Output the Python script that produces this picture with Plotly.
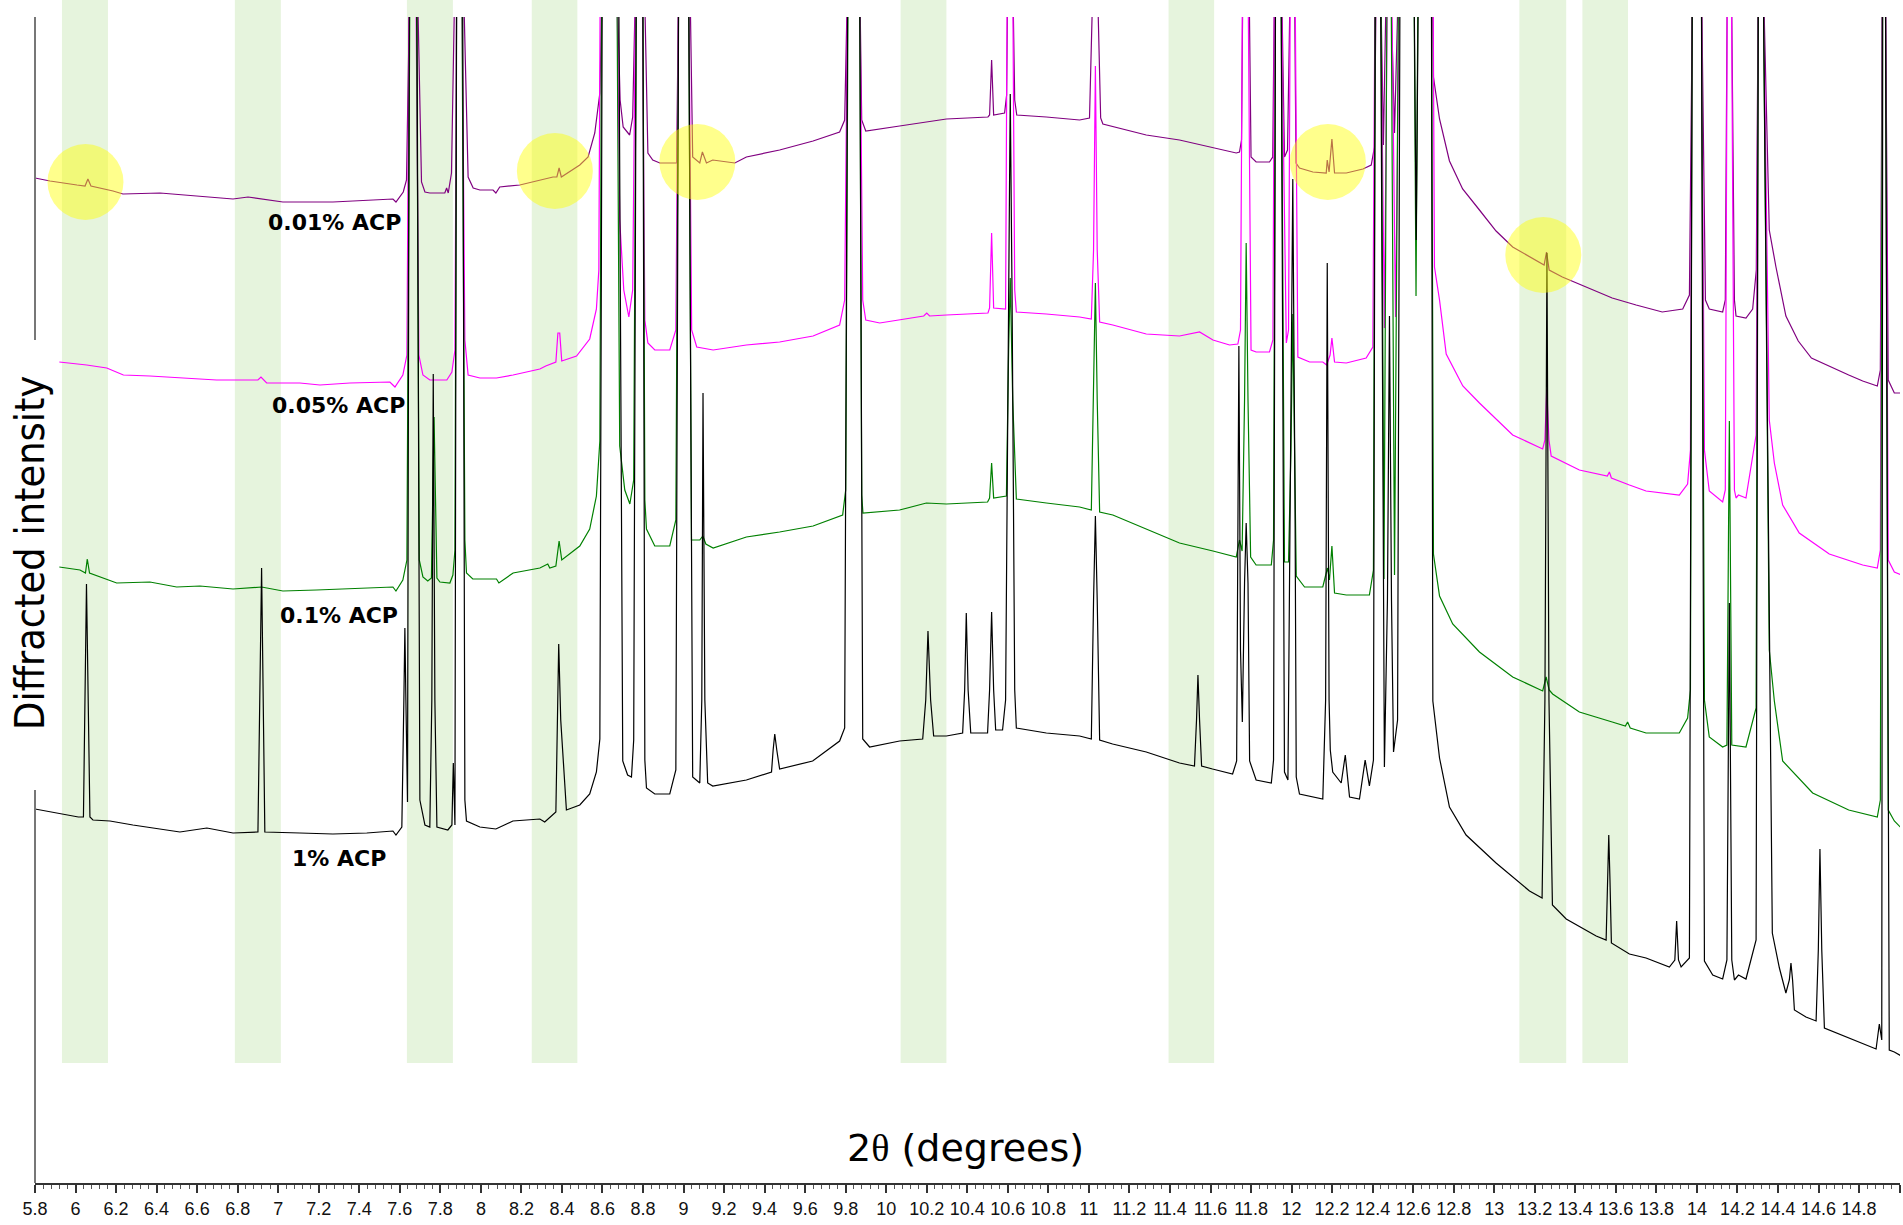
import plotly.graph_objects as go

# ---------------- data (2theta in degrees, intensity in arbitrary stacked units) ----------------
# values >= 1210 mark peaks that run off the top of the frame
ACP_001 = [(5.800,1005),(5.874,1002),(6.007,998),(6.047,997),(6.061,1004),(6.076,997),(6.185,992),(6.234,989),(6.417,990),(6.614,987),(6.777,984),(6.851,986),(7.023,981),(7.270,981),(7.437,983),(7.566,984),(7.581,981),(7.617,991),(7.633,1003),(7.650,1210),(7.686,1210),(7.707,1001),(7.724,991),(7.748,990),(7.822,990),(7.831,995),(7.839,990),(7.855,1010),(7.872,1210),(7.913,1210),(7.937,1006),(7.962,995),(7.995,993),(8.060,993),(8.074,990),(8.093,996),(8.192,998),(8.324,1005),(8.356,1006),(8.375,1006),(8.386,1015),(8.397,1006),(8.488,1018),(8.529,1026),(8.562,1050),(8.587,1090),(8.600,1210),(8.670,1210),(8.687,1083),(8.702,1056),(8.734,1048),(8.749,1066),(8.764,1210),(8.806,1210),(8.824,1030),(8.848,1023),(8.883,1020),(8.966,1020),(8.976,1210),(9.031,1210),(9.045,1026),(9.080,1020),(9.093,1031),(9.113,1020),(9.144,1023),(9.253,1020),(9.310,1026),(9.474,1033),(9.639,1042),(9.770,1051),(9.795,1063),(9.810,1210),(9.869,1210),(9.879,1063),(9.899,1052),(10.066,1057),(10.132,1059),(10.297,1064),(10.502,1066),(10.510,1068),(10.520,1123),(10.530,1068),(10.584,1070),(10.594,1088),(10.600,1210),(10.624,1210),(10.634,1083),(10.644,1068),(10.790,1066),(10.954,1063),(11.003,1065),(11.021,1210),(11.041,1210),(11.058,1065),(11.069,1059),(11.283,1048),(11.447,1043),(11.612,1035),(11.727,1030),(11.743,1031),(11.753,1043),(11.760,1210),(11.790,1210),(11.800,1026),(11.825,1021),(11.891,1021),(11.907,1026),(11.916,1210),(11.950,1210),(11.965,1026),(11.980,1033),(11.994,1210),(12.014,1210),(12.022,1020),(12.039,1015),(12.105,1011),(12.171,1010),(12.176,1023),(12.185,1011),(12.199,1044),(12.212,1010),(12.270,1010),(12.352,1014),(12.393,1018),(12.409,1036),(12.418,1210),(12.439,1210),(12.453,1038),(12.468,1210),(12.488,1210),(12.508,1050),(12.528,1210),(12.695,1210),(12.700,1106),(12.730,1064),(12.779,1022),(12.844,994),(12.927,973),(13.009,952),(13.091,936),(13.188,925),(13.246,918),(13.258,931),(13.271,913),(13.336,906),(13.418,899),(13.582,885),(13.700,878),(13.829,871),(13.930,874),(13.963,888),(13.979,1210),(14.022,1210),(14.042,883),(14.061,874),(14.127,871),(14.140,883),(14.150,1210),(14.170,1210),(14.185,883),(14.193,867),(14.242,865),(14.275,874),(14.293,913),(14.303,1210),(14.327,1210),(14.357,953),(14.390,916),(14.439,867),(14.500,842),(14.565,825),(14.749,808),(14.818,802),(14.890,797),(14.905,813),(14.915,1210),(14.930,1210),(14.944,803),(14.974,790),(15.008,790)]

ACP_005 = [(5.920,821),(6.055,818),(6.154,815),(6.236,808),(6.367,807),(6.531,805),(6.696,803),(6.900,803),(6.915,806),(6.943,800),(7.107,800),(7.206,798),(7.354,800),(7.551,801),(7.576,796),(7.615,808),(7.635,828),(7.647,1210),(7.679,1210),(7.694,828),(7.714,808),(7.748,803),(7.832,803),(7.857,811),(7.872,833),(7.881,1210),(7.906,1210),(7.921,843),(7.937,808),(7.995,805),(8.077,805),(8.159,808),(8.291,814),(8.320,817),(8.370,821),(8.380,850),(8.389,850),(8.399,822),(8.472,827),(8.537,844),(8.570,874),(8.582,913),(8.589,1210),(8.671,1210),(8.685,963),(8.705,893),(8.730,866),(8.749,893),(8.764,1210),(8.796,1210),(8.809,863),(8.824,840),(8.858,833),(8.932,833),(8.962,853),(8.976,1210),(9.025,1210),(9.040,853),(9.065,836),(9.146,833),(9.310,838),(9.474,841),(9.639,847),(9.770,858),(9.795,883),(9.810,1210),(9.869,1210),(9.884,883),(9.899,863),(9.968,860),(10.185,867),(10.200,870),(10.214,867),(10.297,868),(10.502,870),(10.510,875),(10.520,950),(10.530,875),(10.589,874),(10.597,1210),(10.624,1210),(10.634,893),(10.642,871),(10.790,869),(10.954,866),(11.012,864),(11.023,933),(11.032,1117),(11.041,933),(11.053,861),(11.118,858),(11.283,849),(11.447,847),(11.546,851),(11.612,843),(11.694,838),(11.735,839),(11.748,853),(11.758,1210),(11.785,1210),(11.800,833),(11.825,831),(11.891,831),(11.908,843),(11.916,1210),(11.948,1210),(11.974,840),(11.985,853),(11.994,1210),(12.017,1210),(12.031,826),(12.089,821),(12.154,821),(12.173,818),(12.190,828),(12.199,845),(12.212,821),(12.270,820),(12.368,825),(12.401,836),(12.412,1210),(12.439,1210),(12.458,855),(12.473,1210),(12.493,1210),(12.513,866),(12.533,1210),(12.698,1210),(12.705,916),(12.730,883),(12.763,829),(12.845,797),(12.927,780),(13.091,748),(13.239,734),(13.250,743),(13.259,794),(13.270,743),(13.281,727),(13.420,713),(13.558,707),(13.568,711),(13.578,705),(13.667,698),(13.749,692),(13.913,688),(13.954,699),(13.968,733),(13.977,1210),(14.022,1210),(14.037,733),(14.061,692),(14.127,681),(14.140,693),(14.150,1210),(14.170,1210),(14.185,693),(14.193,685),(14.205,688),(14.242,685),(14.292,748),(14.303,1210),(14.327,1210),(14.357,763),(14.382,720),(14.423,678),(14.505,650),(14.653,629),(14.818,618),(14.890,615),(14.905,633),(14.915,1210),(14.930,1210),(14.944,623),(14.974,611),(15.008,608)]

ACP_01 = [(5.920,616),(6.022,613),(6.049,610),(6.058,624),(6.069,610),(6.121,606),(6.203,600),(6.367,601),(6.499,596),(6.614,597),(6.777,594),(6.918,596),(7.023,592),(7.189,593),(7.436,595),(7.566,596),(7.581,592),(7.615,603),(7.635,623),(7.650,1210),(7.682,1210),(7.696,623),(7.714,606),(7.738,602),(7.756,605),(7.769,766),(7.783,605),(7.798,601),(7.847,600),(7.862,608),(7.872,633),(7.881,1210),(7.906,1210),(7.921,643),(7.929,610),(7.960,604),(8.077,604),(8.089,600),(8.159,610),(8.291,615),(8.330,619),(8.340,615),(8.370,617),(8.386,642),(8.399,623),(8.488,637),(8.537,654),(8.570,687),(8.587,742),(8.596,1210),(8.671,1210),(8.685,737),(8.710,693),(8.735,679),(8.754,703),(8.767,1210),(8.799,1210),(8.809,683),(8.817,654),(8.858,637),(8.932,637),(8.962,663),(8.976,1210),(9.025,1210),(9.039,643),(9.080,643),(9.095,647),(9.110,639),(9.146,635),(9.310,646),(9.474,651),(9.639,657),(9.785,668),(9.800,693),(9.812,1210),(9.869,1210),(9.879,688),(9.885,670),(10.066,673),(10.198,680),(10.297,679),(10.500,681),(10.510,685),(10.520,720),(10.530,685),(10.593,687),(10.604,833),(10.612,905),(10.624,783),(10.642,684),(10.790,680),(10.954,676),(11.012,673),(11.023,783),(11.032,900),(11.041,783),(11.053,671),(11.118,668),(11.283,654),(11.447,640),(11.612,632),(11.727,626),(11.743,643),(11.756,632),(11.768,783),(11.776,940),(11.785,783),(11.798,626),(11.825,618),(11.900,618),(11.911,643),(11.921,1210),(11.948,1210),(11.965,621),(11.985,621),(11.997,733),(12.006,869),(12.014,733),(12.023,607),(12.064,596),(12.154,596),(12.177,615),(12.187,603),(12.199,637),(12.212,590),(12.270,588),(12.384,588),(12.404,613),(12.413,1210),(12.441,1210),(12.456,604),(12.471,1210),(12.491,1210),(12.508,608),(12.528,1210),(12.604,1210),(12.614,887),(12.624,1210),(12.690,1210),(12.700,629),(12.730,587),(12.795,559),(12.927,531),(13.091,506),(13.239,492),(13.256,506),(13.271,493),(13.288,489),(13.420,471),(13.582,461),(13.647,457),(13.658,461),(13.671,455),(13.749,450),(13.913,450),(13.954,465),(13.968,493),(13.977,1210),(14.022,1210),(14.037,483),(14.061,446),(14.127,436),(14.148,438),(14.160,762),(14.172,438),(14.242,436),(14.292,475),(14.303,1210),(14.327,1210),(14.357,533),(14.382,482),(14.423,422),(14.571,390),(14.749,373),(14.890,366),(14.905,383),(14.915,1210),(14.930,1210),(14.944,373),(14.974,362),(15.008,355)]

ACP_1 = [(5.800,374),(5.923,369),(6.014,366),(6.039,366),(6.054,599),(6.071,366),(6.086,363),(6.170,362),(6.283,358),(6.515,351),(6.648,355),(6.777,350),(6.900,351),(6.918,615),(6.934,351),(7.107,350),(7.270,349),(7.437,350),(7.566,352),(7.581,348),(7.610,356),(7.620,483),(7.625,555),(7.630,483),(7.638,381),(7.647,1210),(7.684,1210),(7.699,383),(7.724,358),(7.748,356),(7.758,483),(7.765,809),(7.773,483),(7.783,356),(7.837,353),(7.857,358),(7.864,420),(7.872,358),(7.880,1210),(7.910,1210),(7.921,383),(7.929,362),(7.995,356),(8.074,354),(8.158,362),(8.291,364),(8.315,361),(8.370,371),(8.377,463),(8.384,539),(8.394,463),(8.422,373),(8.488,378),(8.537,389),(8.570,411),(8.587,444),(8.599,1210),(8.680,1210),(8.700,422),(8.724,408),(8.743,406),(8.754,443),(8.767,1210),(8.799,1210),(8.809,423),(8.817,395),(8.858,389),(8.932,389),(8.962,413),(8.976,1210),(9.025,1210),(9.045,406),(9.080,400),(9.090,483),(9.096,790),(9.105,483),(9.119,400),(9.144,397),(9.310,403),(9.434,411),(9.442,433),(9.450,449),(9.460,433),(9.474,414),(9.637,422),(9.770,442),(9.795,455),(9.810,1210),(9.869,1210),(9.884,444),(9.918,436),(10.066,442),(10.180,444),(10.195,483),(10.206,552),(10.219,483),(10.234,447),(10.297,447),(10.377,450),(10.387,493),(10.395,570),(10.404,493),(10.417,450),(10.500,450),(10.510,493),(10.520,571),(10.530,493),(10.540,453),(10.574,453),(10.589,483),(10.604,883),(10.612,1089),(10.621,883),(10.634,493),(10.642,455),(10.790,450),(10.954,447),(11.012,444),(11.023,583),(11.032,667),(11.041,583),(11.053,443),(11.117,439),(11.283,431),(11.447,420),(11.521,417),(11.531,463),(11.538,508),(11.546,463),(11.556,417),(11.610,414),(11.709,409),(11.729,422),(11.740,837),(11.748,533),(11.757,461),(11.768,600),(11.776,660),(11.785,600),(11.793,422),(11.825,403),(11.900,400),(11.911,423),(11.921,1210),(11.948,1210),(11.965,411),(11.982,403),(11.994,683),(12.006,1004),(12.017,683),(12.023,406),(12.039,389),(12.154,384),(12.168,483),(12.176,920),(12.185,483),(12.191,433),(12.203,411),(12.245,400),(12.265,428),(12.286,386),(12.335,384),(12.363,423),(12.384,397),(12.404,423),(12.413,1210),(12.439,1210),(12.458,416),(12.473,583),(12.483,867),(12.493,583),(12.503,431),(12.523,463),(12.535,1210),(12.604,1210),(12.615,943),(12.626,1210),(12.690,1210),(12.697,482),(12.730,425),(12.779,376),(12.861,348),(13.009,320),(13.174,292),(13.236,285),(13.250,483),(13.260,930),(13.270,483),(13.287,278),(13.355,264),(13.503,247),(13.552,243),(13.558,303),(13.565,348),(13.571,303),(13.578,240),(13.667,229),(13.749,225),(13.864,216),(13.891,223),(13.900,262),(13.909,223),(13.922,216),(13.963,225),(13.977,1210),(14.022,1210),(14.037,222),(14.078,208),(14.127,204),(14.148,223),(14.160,580),(14.172,223),(14.185,203),(14.205,208),(14.242,204),(14.292,243),(14.303,1210),(14.327,1210),(14.372,250),(14.407,215),(14.439,190),(14.456,203),(14.464,220),(14.472,203),(14.481,173),(14.538,166),(14.588,162),(14.599,233),(14.607,334),(14.616,233),(14.629,155),(14.749,145),(14.884,134),(14.900,159),(14.912,143),(14.917,1210),(14.930,1210),(14.949,133),(14.974,131),(15.008,127)]

SAMPLE_NAMES = ["0.01% ACP", "0.05% ACP", "0.1% ACP", "1% ACP"]
SAMPLE_COLORS = ["#800080", "#ff00ff", "#008000", "#000000"]

# highlighted 2theta windows (green bands)
BAND_LO = [5.933, 6.786, 7.635, 8.251, 10.071, 11.393, 13.124, 13.435]
BAND_HI = [6.160, 7.013, 7.862, 8.476, 10.297, 11.618, 13.355, 13.660]

# weak reflections circled on the 0.01% pattern
MARK_X = [6.049, 8.365, 9.068, 12.179, 13.242]
MARK_Y = [1001, 1012, 1021, 1021, 928]

X_MIN, X_MAX = 5.8, 15.002
Y_MAX = 1166

# ---------------- figure ----------------
fig = go.Figure()
series = [ACP_001, ACP_005, ACP_01, ACP_1]
for name, col, pts in zip(SAMPLE_NAMES, SAMPLE_COLORS, series):
    xs = [p[0] for p in pts]
    ys = [p[1] for p in pts]
    fig.add_trace(go.Scatter(x=xs, y=ys, mode="lines", name=name,
                             line=dict(color=col, width=1.2), showlegend=False,
                             hoverinfo="skip"))

shapes = []
for lo, hi in zip(BAND_LO, BAND_HI):
    shapes.append(dict(type="rect", xref="x", yref="paper", x0=lo, x1=hi,
                       y0=0.1029, y1=1.0146, fillcolor="#e6f4dd",
                       line=dict(width=0), layer="below"))
for mx, my in zip(MARK_X, MARK_Y):
    shapes.append(dict(type="circle", xref="x", yref="y", xsizemode="pixel",
                       ysizemode="pixel", xanchor=mx, yanchor=my,
                       x0=-38, x1=38, y0=-38, y1=38,
                       fillcolor="rgba(255,255,0,0.45)", line=dict(width=0),
                       layer="above"))
# broken left axis line
shapes.append(dict(type="line", xref="paper", yref="paper", x0=0, x1=0,
                   y0=0.723, y1=1.0, line=dict(color="#777", width=2)))
shapes.append(dict(type="line", xref="paper", yref="paper", x0=0, x1=0,
                   y0=0.0, y1=0.337, line=dict(color="#777", width=2)))

annotations = []
label_x = [7.615, 7.635, 7.600, 7.541]
label_y = [961, 778, 568, 325]
for name, lx, ly in zip(SAMPLE_NAMES, label_x, label_y):
    annotations.append(dict(x=lx, y=ly, xref="x", yref="y", text=name,
                            showarrow=False, xanchor="right", yanchor="middle",
                            font=dict(family="DejaVu Sans", size=22,
                                      color="black", weight="bold")))
annotations.append(dict(x=0.4987, y=0.030, xref="paper", yref="paper",
                        text="2<span style='font-family:Liberation Serif'>θ</span> (degrees)",
                        showarrow=False, xanchor="center", yanchor="middle",
                        font=dict(family="DejaVu Sans", size=38, color="black")))
annotations.append(dict(x=-0.0027, y=0.5403, xref="paper", yref="paper",
                        text="Diffracted intensity", textangle=-90,
                        showarrow=False, xanchor="center", yanchor="middle",
                        font=dict(family="DejaVu Sans Condensed, Liberation Sans, sans-serif",
                                  size=41, color="black")))

fig.update_layout(
    width=1903, height=1225,
    margin=dict(l=35, r=3, t=17, b=42, autoexpand=False),
    paper_bgcolor="white", plot_bgcolor="white",
    shapes=shapes, annotations=annotations,
    xaxis=dict(range=[X_MIN, X_MAX], tick0=5.8, dtick=0.2, ticks="outside",
               ticklen=8, tickwidth=1.5, tickcolor="#333",
               showline=True, linecolor="#333", linewidth=2,
               showgrid=False, zeroline=False, automargin=False,
               tickfont=dict(family="Liberation Sans Narrow, Arial Narrow, Liberation Sans",
                             size=18, color="#111"),
               minor=dict(dtick=0.04, tick0=5.8, ticks="outside", ticklen=4,
                          tickcolor="#555", tickwidth=1, showgrid=False)),
    yaxis=dict(range=[0, Y_MAX], visible=False, fixedrange=True),
)

fig.write_html("out.html", config={"displayModeBar": False},
               post_script="document.body.style.margin='0';document.body.style.overflow='hidden';")
